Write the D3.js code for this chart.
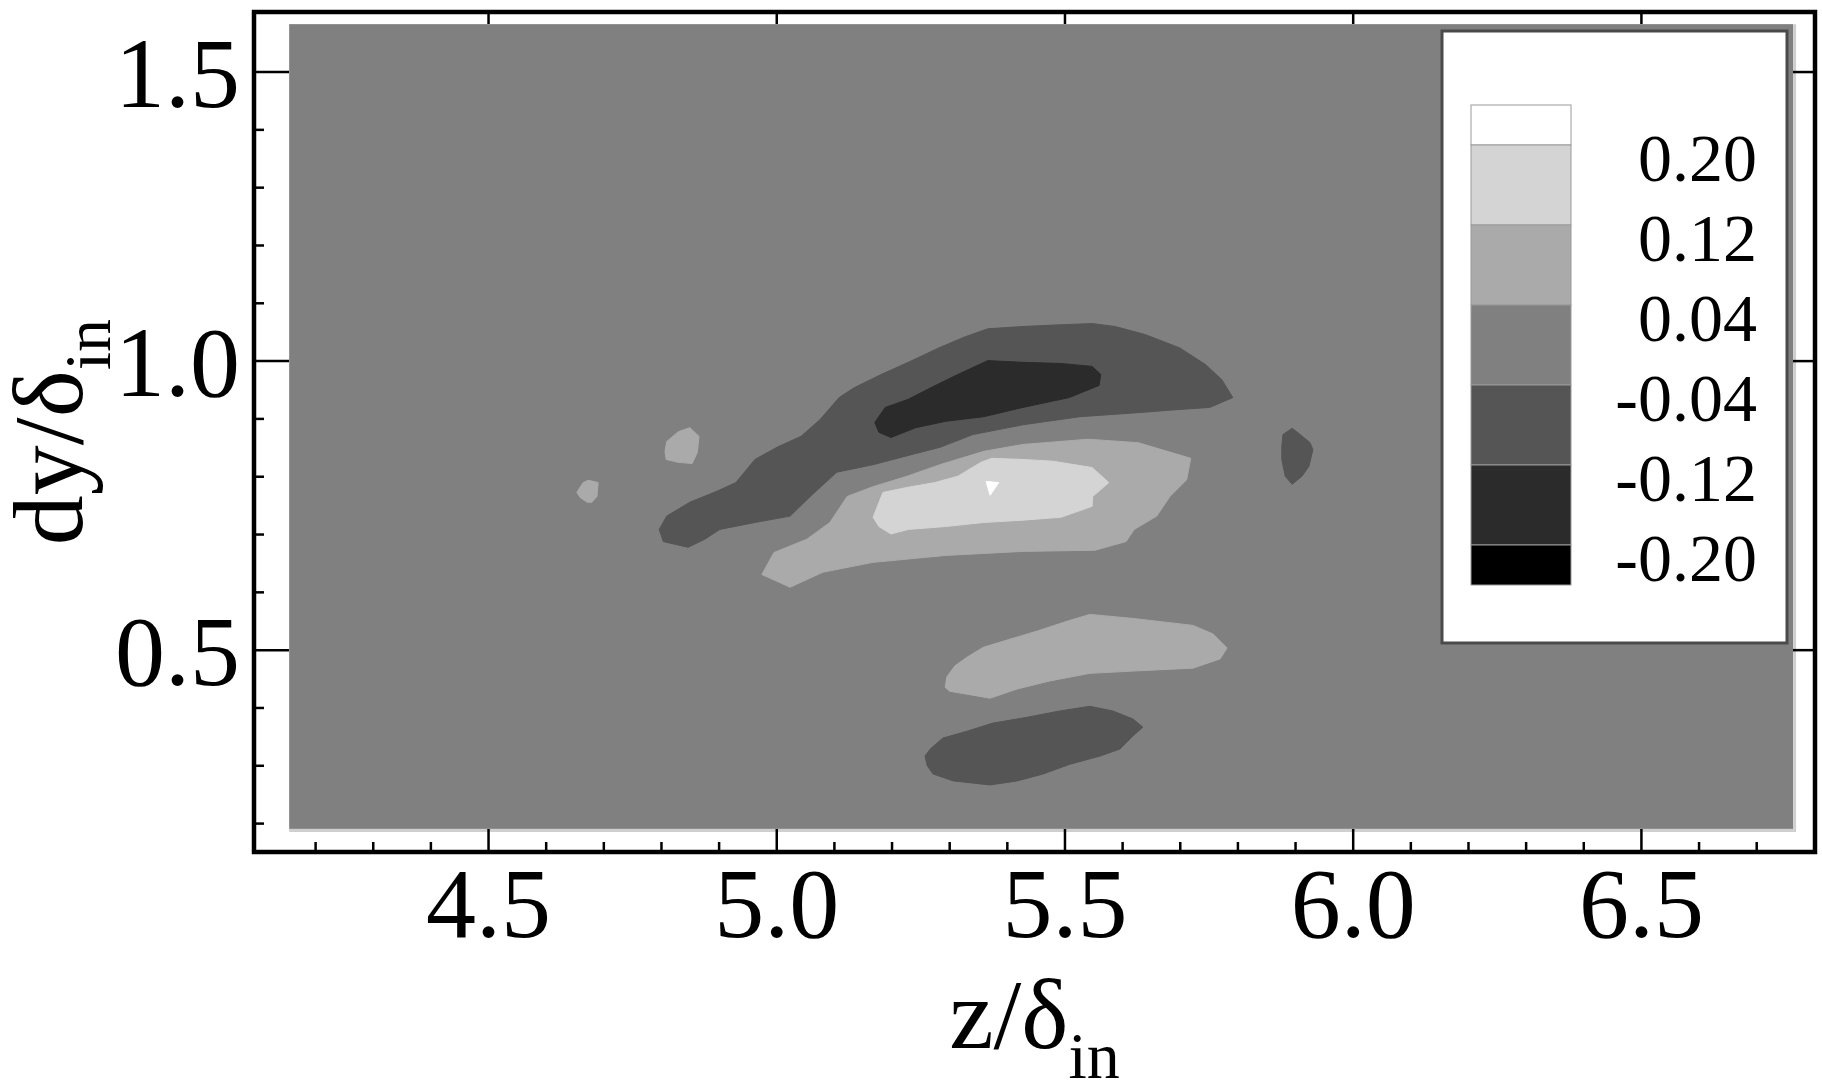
<!DOCTYPE html>
<html>
<head>
<meta charset="utf-8">
<script src="https://cdn.jsdelivr.net/npm/d3@7"></script>
<style>
  body { margin: 0; background: #fff; }
  text { font-family: "Liberation Serif", "Times New Roman", serif; fill: #000; }
</style>
</head>
<body>
<svg width="1822" height="1084"></svg>
<script>
// contour levels (band edges) and legend order
var levels = [-0.20, -0.12, -0.04, 0.04, 0.12, 0.20];
var legendLevels = [0.20, 0.12, 0.04, -0.04, -0.12, -0.20];
var zTicks = [4.5, 5.0, 5.5, 6.0, 6.5];
var yTicks = [0.5, 1.0, 1.5];

// extent of the sampled field, and its value outside all contours
var zExtent = [4.155, 6.764];
var yExtent = [0.190, 1.582];
var backgroundValue = 0;

// contour outlines, [z/delta, dy/delta]
var upperNegBand = [[4.797,0.708],[4.810,0.731],[4.850,0.755],[4.897,0.774],[4.930,0.789],[4.963,0.829],[5.003,0.851],[5.043,0.869],[5.076,0.898],[5.109,0.936],[5.135,0.953],[5.182,0.976],[5.229,0.997],[5.282,1.022],[5.327,1.041],[5.367,1.055],[5.428,1.059],[5.494,1.062],[5.548,1.064],[5.588,1.059],[5.640,1.045],[5.700,1.022],[5.745,0.993],[5.773,0.967],[5.792,0.936],[5.752,0.919],[5.693,0.915],[5.628,0.910],[5.527,0.903],[5.428,0.889],[5.341,0.872],[5.284,0.850],[5.237,0.838],[5.168,0.820],[5.105,0.807],[5.059,0.765],[5.024,0.731],[4.963,0.720],[4.902,0.708],[4.876,0.691],[4.847,0.677],[4.804,0.687]];
var upperNegCore = [[5.171,0.893],[5.189,0.919],[5.229,0.933],[5.268,0.953],[5.315,0.976],[5.367,1.000],[5.428,0.997],[5.494,0.995],[5.548,0.990],[5.563,0.976],[5.560,0.957],[5.508,0.936],[5.428,0.919],[5.360,0.903],[5.294,0.895],[5.242,0.884],[5.199,0.867],[5.178,0.876]];
var upperPosBand = [[4.975,0.630],[4.996,0.668],[5.053,0.691],[5.093,0.720],[5.123,0.765],[5.168,0.782],[5.227,0.800],[5.284,0.820],[5.360,0.843],[5.428,0.855],[5.541,0.864],[5.628,0.858],[5.719,0.831],[5.712,0.794],[5.683,0.765],[5.660,0.731],[5.621,0.708],[5.607,0.687],[5.553,0.672],[5.428,0.670],[5.294,0.663],[5.168,0.651],[5.081,0.634],[5.024,0.608]];
var upperPosCore = [[5.168,0.729],[5.185,0.772],[5.229,0.781],[5.275,0.789],[5.315,0.800],[5.355,0.824],[5.374,0.831],[5.428,0.829],[5.480,0.826],[5.548,0.815],[5.577,0.789],[5.549,0.765],[5.548,0.748],[5.494,0.729],[5.428,0.724],[5.360,0.720],[5.294,0.713],[5.229,0.708],[5.199,0.700],[5.178,0.713]];
var upperPosPeak = [[5.364,0.791],[5.386,0.789],[5.371,0.767]];
var blobLeft = [[4.807,0.843],[4.810,0.860],[4.830,0.877],[4.850,0.884],[4.866,0.869],[4.863,0.841],[4.854,0.822],[4.830,0.824],[4.809,0.829]];
var blobFarLeft = [[4.654,0.772],[4.665,0.789],[4.674,0.793],[4.691,0.789],[4.689,0.765],[4.680,0.755],[4.672,0.755],[4.660,0.763]];
var blobRight = [[5.879,0.872],[5.895,0.883],[5.909,0.872],[5.926,0.858],[5.931,0.846],[5.924,0.817],[5.912,0.800],[5.895,0.786],[5.883,0.800],[5.877,0.829],[5.877,0.851]];
var lowerPos = [[5.293,0.435],[5.296,0.453],[5.310,0.472],[5.331,0.487],[5.359,0.504],[5.405,0.518],[5.452,0.532],[5.504,0.549],[5.544,0.561],[5.619,0.554],[5.723,0.542],[5.758,0.527],[5.782,0.503],[5.770,0.484],[5.723,0.468],[5.619,0.463],[5.544,0.459],[5.475,0.446],[5.418,0.432],[5.371,0.416],[5.331,0.423],[5.301,0.428]];
var lowerNeg = [[5.258,0.316],[5.262,0.299],[5.272,0.285],[5.307,0.273],[5.371,0.266],[5.418,0.273],[5.463,0.285],[5.510,0.302],[5.562,0.316],[5.596,0.328],[5.619,0.351],[5.636,0.366],[5.619,0.380],[5.584,0.394],[5.544,0.402],[5.492,0.394],[5.435,0.383],[5.376,0.373],[5.331,0.359],[5.289,0.347],[5.267,0.328]];

// value inside each outline, outer ones first
var regions = [
  { value: -0.08, pts: upperNegBand },
  { value: -0.16, pts: upperNegCore },
  { value: 0.08, pts: upperPosBand },
  { value: 0.16, pts: upperPosCore },
  { value: 0.24, pts: upperPosPeak },
  { value: 0.08, pts: blobLeft },
  { value: 0.08, pts: blobFarLeft },
  { value: -0.08, pts: blobRight },
  { value: 0.08, pts: lowerPos },
  { value: -0.08, pts: lowerNeg }
];

var svg = d3.select("svg");

var frameL = 254, frameT = 12, frameR = 1815, frameB = 852;
var x = d3.scaleLinear([4.094, 6.802], [frameL, frameR]);
var y = d3.scaleLinear([0.150, 1.603], [frameB, frameT]);

var grays = ["#000000", "#2b2b2b", "#555555", "#808080", "#aaaaaa", "#d4d4d4", "#ffffff"];
var color = d3.scaleThreshold().domain(levels).range(grays);

var fmt = d3.formatLocale({ decimal: ".", thousands: ",", grouping: [3], currency: ["", ""], minus: "-" });

// field background
var fx0 = x(zExtent[0]), fx1 = x(zExtent[1]), fy0 = y(yExtent[1]), fy1 = y(yExtent[0]);
svg.append("rect")
  .attr("x", fx0).attr("y", fy0)
  .attr("width", fx1 - fx0).attr("height", fy1 - fy0)
  .attr("fill", color(backgroundValue));

// faint light rim on the right and bottom edges of the field
svg.append("path")
  .attr("d", "M" + (fx1 + 1.5) + "," + fy0 + "V" + (fy1 + 1.5) + "H" + fx0)
  .attr("fill", "none")
  .attr("stroke", "#cfcfcf")
  .attr("stroke-width", 3);

var line = d3.line()
  .x(function (d) { return x(d[0]); })
  .y(function (d) { return y(d[1]); })
  .curve(d3.curveLinearClosed);

svg.selectAll("path.band")
  .data(regions)
  .enter().append("path")
  .attr("class", "band")
  .attr("d", function (d) { return line(d.pts); })
  .attr("fill", function (d) { return color(d.value); })
  .attr("stroke", function (d) { return color(d.value); })
  .attr("stroke-width", 1);

// legend
var legend = svg.append("g");
legend.append("rect")
  .attr("x", 1442).attr("y", 31)
  .attr("width", 345).attr("height", 612)
  .attr("fill", "#fff")
  .attr("stroke", "#4a4a4a")
  .attr("stroke-width", 3);

var ly = d3.scaleLinear([0.20, -0.20], [145, 545]);
var step = 0.04;
var edges = [legendLevels[0] + step].concat(legendLevels, [legendLevels[legendLevels.length - 1] - step]);
var swatches = d3.pairs(edges);

legend.selectAll("rect.sw")
  .data(swatches)
  .enter().append("rect")
  .attr("class", "sw")
  .attr("x", 1471).attr("width", 100)
  .attr("y", function (d) { return ly(d[0]); })
  .attr("height", function (d) { return ly(d[1]) - ly(d[0]); })
  .attr("fill", function (d) { return color((d[0] + d[1]) / 2); })
  .attr("stroke", "#9a9a9a")
  .attr("stroke-width", 1);

legend.selectAll("text.lab")
  .data(legendLevels)
  .enter().append("text")
  .attr("class", "lab")
  .attr("x", 1757)
  .attr("y", function (d) { return ly(d) + 36; })
  .attr("text-anchor", "end")
  .attr("font-size", 68)
  .text(function (d) { return fmt.format(".2f")(d); });

// axes
function minor(domain, majors) {
  return d3.range(Math.ceil(domain[0] * 10 + 0.5), Math.floor(domain[1] * 10 - 0.5) + 1)
    .map(function (v) { return v / 10; })
    .filter(function (v) { return majors.indexOf(v) < 0; });
}

var xAxis = d3.axisBottom(x).tickValues(zTicks).tickSizeInner(-23).tickSizeOuter(0)
  .tickPadding(14).tickFormat(fmt.format(".1f"));
var gx = svg.append("g").attr("transform", "translate(0," + frameB + ")").call(xAxis);
gx.selectAll("text").attr("font-size", 100).attr("font-family", null).attr("fill", "#000");

svg.append("g").attr("transform", "translate(0," + frameB + ")")
  .call(d3.axisBottom(x).tickValues(minor(x.domain(), zTicks)).tickSizeInner(-10).tickSizeOuter(0).tickFormat(""));

var yAxis = d3.axisLeft(y).tickValues(yTicks).tickSizeInner(-35).tickSizeOuter(0)
  .tickPadding(14).tickFormat(fmt.format(".1f"));
var gy = svg.append("g").attr("transform", "translate(" + frameL + ",0)").call(yAxis);
gy.selectAll("text").attr("font-size", 100).attr("font-family", null).attr("fill", "#000").attr("dy", "0.35em");

svg.append("g").attr("transform", "translate(" + frameL + ",0)")
  .call(d3.axisLeft(y).tickValues(minor(y.domain(), yTicks)).tickSizeInner(-10).tickSizeOuter(0).tickFormat(""));

svg.append("g").attr("transform", "translate(0," + frameT + ")")
  .call(d3.axisTop(x).tickValues(zTicks).tickSizeInner(-12).tickSizeOuter(0).tickFormat(""));
svg.append("g").attr("transform", "translate(" + frameR + ",0)")
  .call(d3.axisRight(y).tickValues(yTicks).tickSizeInner(-22).tickSizeOuter(0).tickFormat(""));

svg.selectAll(".domain").remove();
svg.selectAll(".tick line").attr("stroke", "#000").attr("stroke-width", 2.5);

// frame
svg.append("rect")
  .attr("x", frameL).attr("y", frameT)
  .attr("width", frameR - frameL).attr("height", frameB - frameT)
  .attr("fill", "none").attr("stroke", "#000").attr("stroke-width", 4.5);

// axis titles
var xt = svg.append("text")
  .attr("x", (frameL + frameR) / 2).attr("y", 1048)
  .attr("text-anchor", "middle").attr("font-size", 100);
xt.append("tspan").text("z/δ");
xt.append("tspan").attr("font-size", 66).attr("dy", 30).text("in");

var yt = svg.append("text")
  .attr("transform", "translate(82," + (frameT + frameB) / 2 + ") rotate(-90)")
  .attr("text-anchor", "middle").attr("font-size", 100);
yt.append("tspan").text("dy/δ");
yt.append("tspan").attr("font-size", 66).attr("dy", 28).text("in");
</script>
</body>
</html>
